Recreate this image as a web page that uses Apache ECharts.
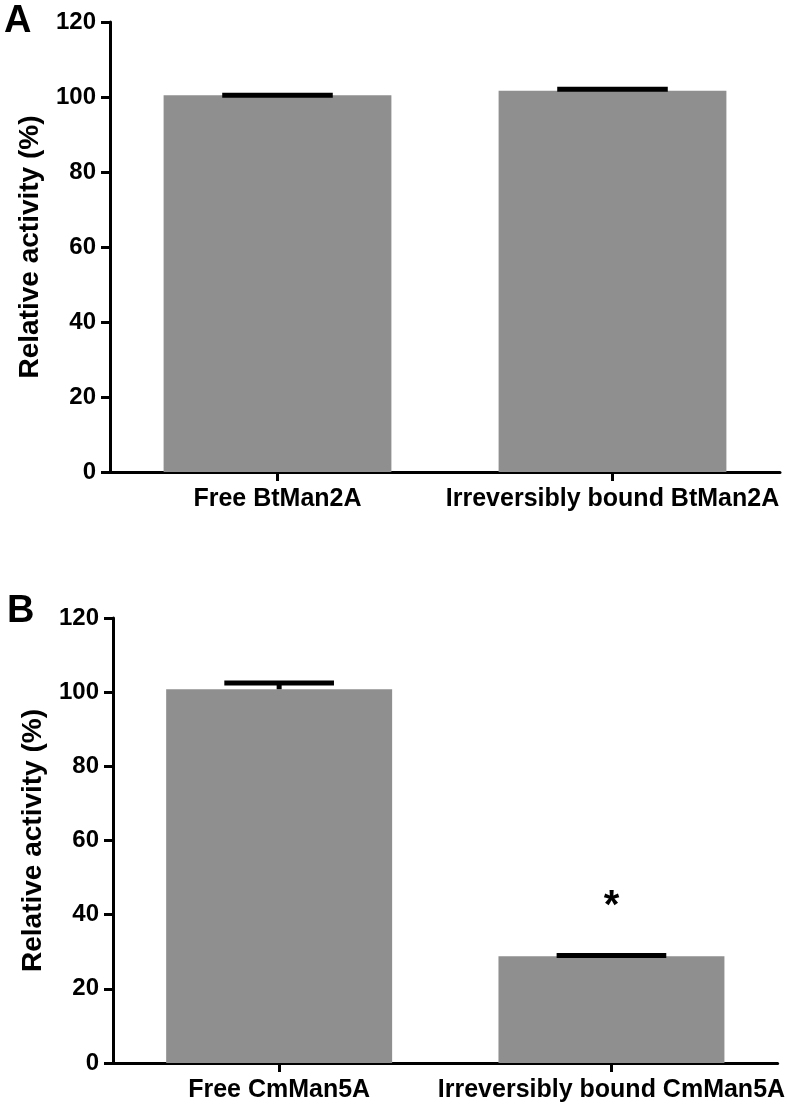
<!DOCTYPE html>
<html>
<head>
<meta charset="utf-8">
<script src="https://cdn.jsdelivr.net/npm/echarts@6/dist/echarts.min.js"></script>
<style>html,body{margin:0;padding:0;background:#fff;}#c{width:787px;height:1109px;}</style>
</head>
<body>
<div id="c"></div>
<script>
// Data
var categoriesA = ['Free BtMan2A', 'Irreversibly bound BtMan2A'];
var valuesA = [100.5, 101.7];
var errorsA = [0.0, 0.4];
var categoriesB = ['Free CmMan5A', 'Irreversibly bound CmMan5A'];
var valuesB = [100.8, 28.8];
var errorsB = [1.7, 0.2];
var sigB = ['', '*'];
var yTicks = [0, 20, 40, 60, 80, 100, 120];

var FONT = '"Liberation Sans", Arial, sans-serif';
var chart = echarts.init(document.getElementById('c'), null, {renderer: 'canvas'});

function errItem(params, api) {
  var x = api.value(0), m = api.value(1), e = api.value(2);
  var base = api.coord([x, m]);
  var top = api.coord([x, m + e]);
  var band = api.size([1, 0])[0];
  var half = band * 0.165;
  var children = [
    {type: 'line', shape: {x1: top[0], y1: base[1], x2: top[0], y2: top[1]}, style: {stroke: '#000', lineWidth: 5}},
    {type: 'line', shape: {x1: top[0] - half, y1: top[1], x2: top[0] + half, y2: top[1]}, style: {stroke: '#000', lineWidth: 5}}
  ];
  return {type: 'group', children: children};
}

function sigItem(params, api) {
  var x = api.value(0), m = api.value(1), e = api.value(2);
  var txt = sigB[params.dataIndex];
  var top = api.coord([x, m + e]);
  return {type: 'text', x: top[0], y: top[1] - 48, style: {text: txt, fill: '#000', font: 'bold 40px ' + FONT, align: 'center', verticalAlign: 'middle'}};
}

function yAxisCfg(idx) {
  return {
    type: 'value', gridIndex: idx, min: yTicks[0], max: yTicks[yTicks.length - 1], interval: 20,
    name: 'Relative activity (%)', nameLocation: 'middle', nameGap: 66, nameRotate: 90,
    nameTextStyle: {fontFamily: FONT, fontWeight: 'bold', fontSize: 28, color: '#000'},
    axisLine: {show: true, lineStyle: {color: '#000', width: 3}},
    axisTick: {show: true, length: 9, lineStyle: {color: '#000', width: 3}},
    axisLabel: {fontFamily: FONT, fontWeight: 'bold', fontSize: 24, color: '#000', margin: 14},
    splitLine: {show: false}
  };
}
function xAxisCfg(idx, cats) {
  return {
    type: 'category', gridIndex: idx, data: cats,
    axisLine: {show: true, lineStyle: {color: '#000', width: 3}},
    axisTick: {show: true, alignWithLabel: true, length: 9, lineStyle: {color: '#000', width: 3}},
    axisLabel: {fontFamily: FONT, fontWeight: 'bold', fontSize: 25, color: '#000', margin: 15, interval: 0}
  };
}

var option = {
  backgroundColor: '#fff',
  animation: false,
  grid: [
    {left: 110, right: 7, top: 22, bottom: 637},
    {left: 113, right: 5, top: 618, bottom: 46}
  ],
  xAxis: [xAxisCfg(0, categoriesA), xAxisCfg(1, categoriesB)],
  yAxis: [yAxisCfg(0), yAxisCfg(1)],
  graphic: [
    {type: 'text', left: 4, top: 3, style: {text: 'A', font: 'bold 38px ' + FONT, fill: '#000'}},
    {type: 'text', left: 7, top: 593, style: {text: 'B', font: 'bold 38px ' + FONT, fill: '#000'}}
  ],
  series: [
    {type: 'bar', xAxisIndex: 0, yAxisIndex: 0, data: valuesA, barWidth: '68%', itemStyle: {color: '#8f8f8f'}, z: 2},
    {type: 'custom', xAxisIndex: 0, yAxisIndex: 0, renderItem: errItem, z: 3,
      data: categoriesA.map(function (c, i) { return [i, valuesA[i], errorsA[i]]; })},
    {type: 'bar', xAxisIndex: 1, yAxisIndex: 1, data: valuesB, barWidth: '68%', itemStyle: {color: '#8f8f8f'}, z: 2},
    {type: 'custom', xAxisIndex: 1, yAxisIndex: 1, renderItem: errItem, z: 3,
      data: categoriesB.map(function (c, i) { return [i, valuesB[i], errorsB[i]]; })},
    {type: 'custom', xAxisIndex: 1, yAxisIndex: 1, renderItem: sigItem, z: 4,
      data: categoriesB.map(function (c, i) { return [i, valuesB[i], errorsB[i]]; })}
  ]
};
chart.setOption(option);
</script>
</body>
</html>
